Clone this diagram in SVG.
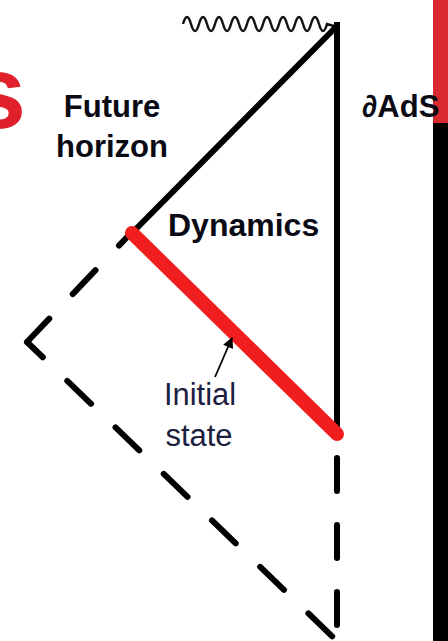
<svg xmlns="http://www.w3.org/2000/svg" width="448" height="641" viewBox="0 0 448 641">
  <style>
    .lbl { font-family: "Liberation Sans", Arial, sans-serif; font-weight: bold; fill: #0a0a14; }
    .thin { font-family: "Liberation Sans", Arial, sans-serif; fill: #1c2040; }
    .solid { stroke: #000; stroke-width: 6; fill: none; }
    .dash { stroke: #000; stroke-width: 6; fill: none; stroke-linecap: round; stroke-dasharray: 33 34; }
  </style>
  <defs>
    <marker id="ah" viewBox="0 0 10 10" refX="9" refY="5" markerWidth="7" markerHeight="6" orient="auto" markerUnits="strokeWidth">
      <path d="M0,0 L10,5 L0,10 z" fill="#000"/>
    </marker>
  </defs>
  <rect width="448" height="641" fill="#fff"/>

  <!-- side bars / title fragment -->
  <g id="sidebar">
    <rect x="433" y="0" width="15" height="123" fill="#d9282e"/>
    <rect x="433" y="123" width="15" height="518" fill="#000"/>
  </g>
  <g id="title-fragment">
    <text x="26" y="128" text-anchor="end" font-family="Liberation Sans, Arial, sans-serif" font-weight="bold" font-size="104" fill="#e0202a">s</text>
  </g>

  <g id="connectors">
    <!-- singularity -->
    <path d="M183,24 q4,-14 8,0 t8,0 t8,0 t8,0 t8,0 t8,0 t8,0 t8,0 t8,0 t8,0 t8,0 t8,0 t8,0 t8,0 t8,0 t8,0 t8,0 t8,0 L334,26" fill="none" stroke="#111" stroke-width="2.5"/>
    <!-- future horizon -->
    <line class="solid" x1="129" y1="236" x2="336" y2="27"/>
    <!-- AdS boundary -->
    <line class="solid" x1="337" y1="22" x2="337" y2="432"/>
    <!-- dashed extension -->
    <path class="dash" d="M130,234 L27,342" stroke-dashoffset="17"/>
    <path class="dash" d="M27,342 L337,641" stroke-dashoffset="11"/>
    <path class="dash" d="M337,458 L337,641" stroke-dasharray="36 30"/>
    <!-- initial state slice -->
    <line x1="132" y1="233" x2="337" y2="434" stroke="#f01e1e" stroke-width="14" stroke-linecap="round"/>
    <!-- pointer arrow -->
    <line x1="215" y1="377" x2="232" y2="338" stroke="#000" stroke-width="1.8" marker-end="url(#ah)"/>
  </g>

  <g id="future-horizon-label">
    <text class="lbl" x="112" y="117" font-size="31" text-anchor="middle">Future</text>
    <text class="lbl" x="112" y="157" font-size="31" text-anchor="middle">horizon</text>
  </g>
  <g id="ads-label">
    <text class="lbl" x="362" y="117" font-size="31">∂AdS</text>
  </g>
  <g id="dynamics-label">
    <text class="lbl" x="168" y="236" font-size="32">Dynamics</text>
  </g>
  <g id="initial-state-label">
    <text class="thin" x="200" y="405" font-size="31" text-anchor="middle" textLength="72" lengthAdjust="spacingAndGlyphs">Initial</text>
    <text class="thin" x="199" y="446" font-size="31" text-anchor="middle">state</text>
  </g>
</svg>
